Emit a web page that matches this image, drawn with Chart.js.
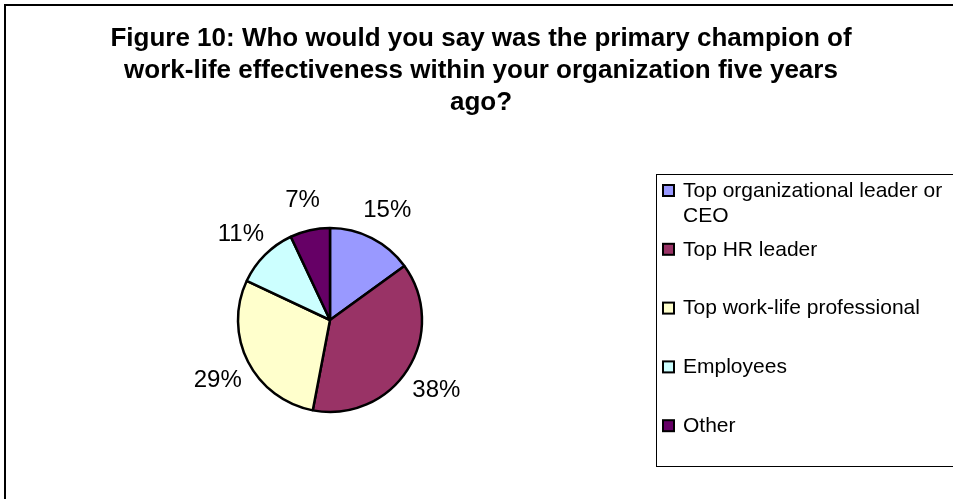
<!DOCTYPE html>
<html>
<head>
<meta charset="utf-8">
<script src="https://cdn.jsdelivr.net/npm/chart.js@4/dist/chart.umd.min.js"></script>
<style>
  html, body { margin: 0; padding: 0; background: #fff; }
  #wrap { width: 953px; height: 499px; position: relative; }
</style>
</head>
<body>
<div id="wrap"><canvas id="championChart" width="953" height="499"></canvas></div>
<script>
var titleLines = [
    "Figure 10: Who would you say was the primary champion of",
    "work-life effectiveness within your organization five years",
    "ago?"
];
var categories = ["Top organizational leader or CEO", "Top HR leader", "Top work-life professional", "Employees", "Other"];
var shares = [15, 38, 29, 11, 7];
var sliceColors = ["#9999FF", "#993366", "#FFFFCC", "#CCFFFF", "#660066"];

var FONT = "'Liberation Sans', Arial, sans-serif";

// frame, title, percent labels and legend box
var decorations = {
    id: "decorations",
    beforeDraw: function (chart) {
        var ctx = chart.ctx;
        ctx.save();
        ctx.fillStyle = "#fff";
        ctx.fillRect(0, 0, chart.width, chart.height);
        ctx.strokeStyle = "#000";
        ctx.lineWidth = 2;
        ctx.strokeRect(5, 5, chart.width + 10, chart.height + 10);
        ctx.restore();
    },
    afterDraw: function (chart) {
        var ctx = chart.ctx;
        ctx.save();

        // title
        ctx.fillStyle = "#000";
        ctx.font = "bold 26px " + FONT;
        ctx.textAlign = "center";
        ctx.textBaseline = "alphabetic";
        titleLines.forEach(function (line, i) {
            ctx.fillText(line, 481, 46 + i * 32);
        });

        // percent labels outside each slice
        var meta = chart.getDatasetMeta(0);
        ctx.font = "24px " + FONT;
        ctx.textBaseline = "middle";
        meta.data.forEach(function (arc, i) {
            var mid = (arc.startAngle + arc.endAngle) / 2;
            var d = arc.outerRadius + 34;
            ctx.fillText(shares[i] + "%", arc.x + Math.cos(mid) * d, arc.y + Math.sin(mid) * d + 3);
        });

        // legend
        ctx.strokeStyle = "#000";
        ctx.lineWidth = 1;
        ctx.strokeRect(656.5, 174.5, 320, 292);
        ctx.font = "21px " + FONT;
        ctx.textAlign = "left";
        categories.forEach(function (name, i) {
            var y = 191 + i * 58.8;
            ctx.fillStyle = sliceColors[i];
            ctx.fillRect(663, y - 6, 11, 11);
            ctx.strokeStyle = "#000";
            ctx.lineWidth = 2;
            ctx.strokeRect(663, y - 6, 11, 11);
            ctx.fillStyle = "#000";
            var words = name.split(" ");
            var line = "";
            var row = 0;
            words.forEach(function (w) {
                var test = line ? line + " " + w : w;
                if (line && ctx.measureText(test).width > 268) {
                    ctx.fillText(line, 683, y + row * 25);
                    line = w;
                    row++;
                } else {
                    line = test;
                }
            });
            ctx.fillText(line, 683, y + row * 25);
        });
        ctx.restore();
    }
};

new Chart("championChart", {
    type: "pie",
    data: {
        labels: categories,
        datasets: [{
            data: shares,
            backgroundColor: sliceColors,
            borderColor: "#000",
            borderWidth: 2.5,
            radius: 92
        }]
    },
    options: {
        responsive: false,
        animation: false,
        layout: {
            padding: { left: 230, right: 523, top: 220, bottom: 79 }
        },
        plugins: {
            legend: { display: false },
            tooltip: { enabled: false },
            title: { display: false }
        }
    },
    plugins: [decorations]
});
</script>
</body>
</html>
